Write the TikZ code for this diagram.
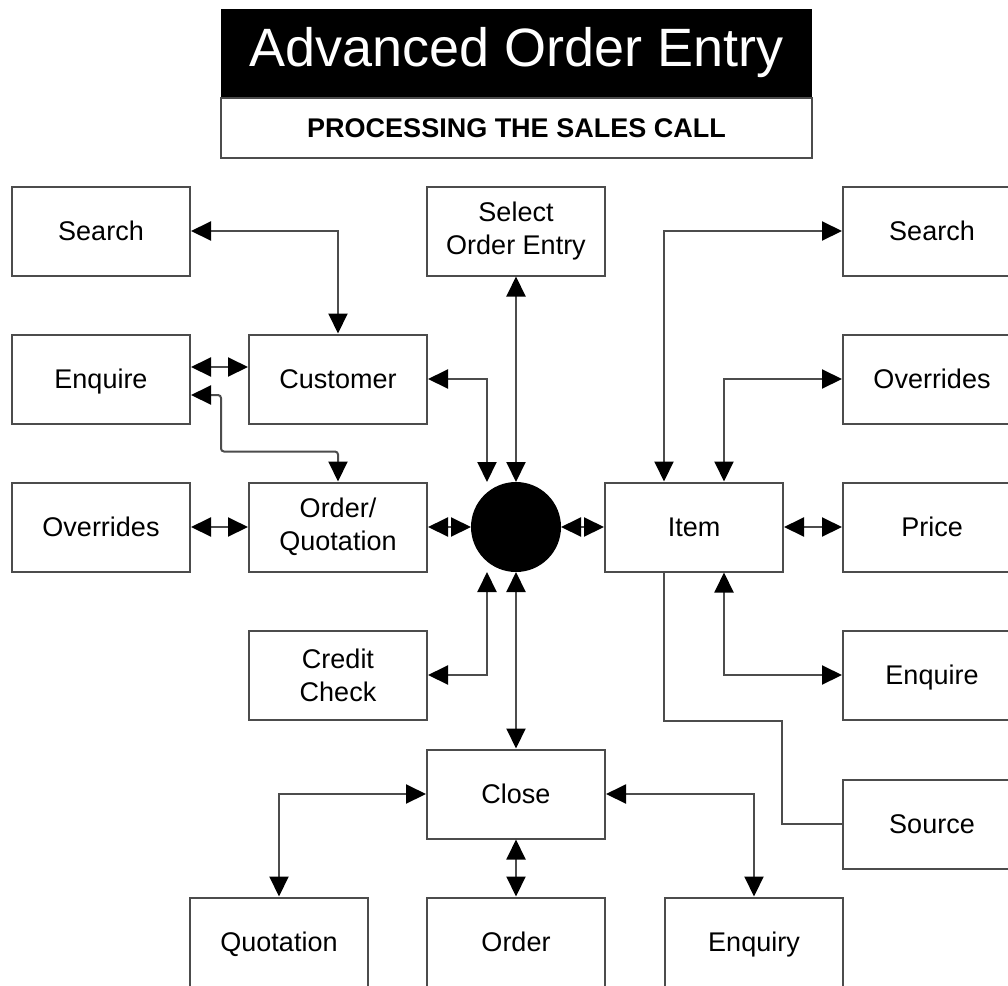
\documentclass[tikz,border=0pt]{standalone}
\usepackage{fontspec}
\setmainfont{Liberation Sans}
\usetikzlibrary{arrows.meta,calc}
\definecolor{linec}{gray}{0.3}
\tikzset{
  box/.style={draw=linec, line width=2pt, minimum width=178pt, minimum height=89pt,
    inner sep=0pt, align=center, font=\fontsize{27}{33}\selectfont},
  sbox/.style={box, text height=25pt, text depth=6pt},
  conn/.style={draw=linec, line width=2pt},
  dbl/.style={conn, {Triangle[length=20pt,width=19pt,color=black]}-{Triangle[length=20pt,width=19pt,color=black]}},
}
\begin{document}
\begin{tikzpicture}[x=1pt,y=-1pt]
\useasboundingbox (0,0) rectangle (1008,985);
\fill[white] (0,0) rectangle (1008,985);
% title
\node[fill=black, minimum width=591pt, minimum height=88pt, inner sep=0pt,
  text=white, font=\fontsize{54}{60}\selectfont] (title) at (516.5,53) {Advanced Order Entry};
\node[draw=linec, line width=2pt, minimum width=591pt, minimum height=60pt, inner sep=0pt,
  font=\bfseries\fontsize{27}{32}\selectfont, anchor=north] (sub) at (title.south) {PROCESSING THE SALES CALL};
% left column
\node[sbox] (sL) at (101,231) {Search};
\node[sbox] (eL) at (101,379) {Enquire};
\node[sbox] (oL) at (101,527) {Overrides};
% second column
\node[sbox] (cust) at (338,379) {Customer};
\node[box] (ordq) at (338,527) {Order/\\Quotation};
\node[box] (cred) at (338,675) {Credit\\Check};
% centre column
\node[box] (sel) at (516,231) {Select\\Order Entry};
\node[circle, fill=black, minimum size=90pt, inner sep=0pt, outer sep=0pt] (hub) at (516,527) {};
\node[sbox] (close) at (516,794) {Close};
% bottom row
\node[sbox] (quot) at (279,942) {Quotation};
\node[sbox] (order) at (516,942) {Order};
\node[sbox] (enqy) at (754,942) {Enquiry};
% item
\node[sbox] (item) at (694,527) {Item};
% right column
\node[sbox] (sR) at (932,231) {Search};
\node[sbox] (ovR) at (932,379) {Overrides};
\node[sbox] (price) at (932,527) {Price};
\node[sbox] (enqR) at (932,675) {Enquire};
\node[sbox] (src) at (932,824) {Source};
% connectors, left side
\draw[dbl] (sL.east) -| (cust.north);
\draw[dbl] ([yshift=12pt]eL.east) -- ([yshift=12pt]cust.west);
\draw[dbl, rounded corners=3pt] ([yshift=-16pt]eL.east) -- ++(30,0) |- ($(ordq.north)+(0,-30)$) -- (ordq.north);
\draw[dbl] (cust.east) -| ([xshift=-29pt]hub.north);
\draw[dbl] (sel.south) -- (hub.north);
\draw[dbl] (oL.east) -- (ordq.west);
\draw[dbl] (ordq.east) -- (hub.west);
\draw[dbl] (cred.east) -| ([xshift=-29pt]hub.south);
\draw[dbl] (hub.south) -- (close.north);
% right side
\draw[dbl] (hub.east) -- (item.west);
\draw[dbl] ([xshift=-30pt]item.north) |- (sR.west);
\draw[dbl] ([xshift=30pt]item.north) |- (ovR.west);
\draw[dbl] (item.east) -- (price.west);
\draw[dbl] ([xshift=30pt]item.south) |- (enqR.west);
\draw[conn] ([xshift=-30pt]item.south) -- ++(0,148) -| ($(src.west)+(-60,0)$) -- (src.west);
% bottom
\draw[dbl] (close.west) -| (quot.north);
\draw[dbl] (close.east) -| (enqy.north);
\draw[dbl] (close.south) -- (order.north);
\end{tikzpicture}
\end{document}
